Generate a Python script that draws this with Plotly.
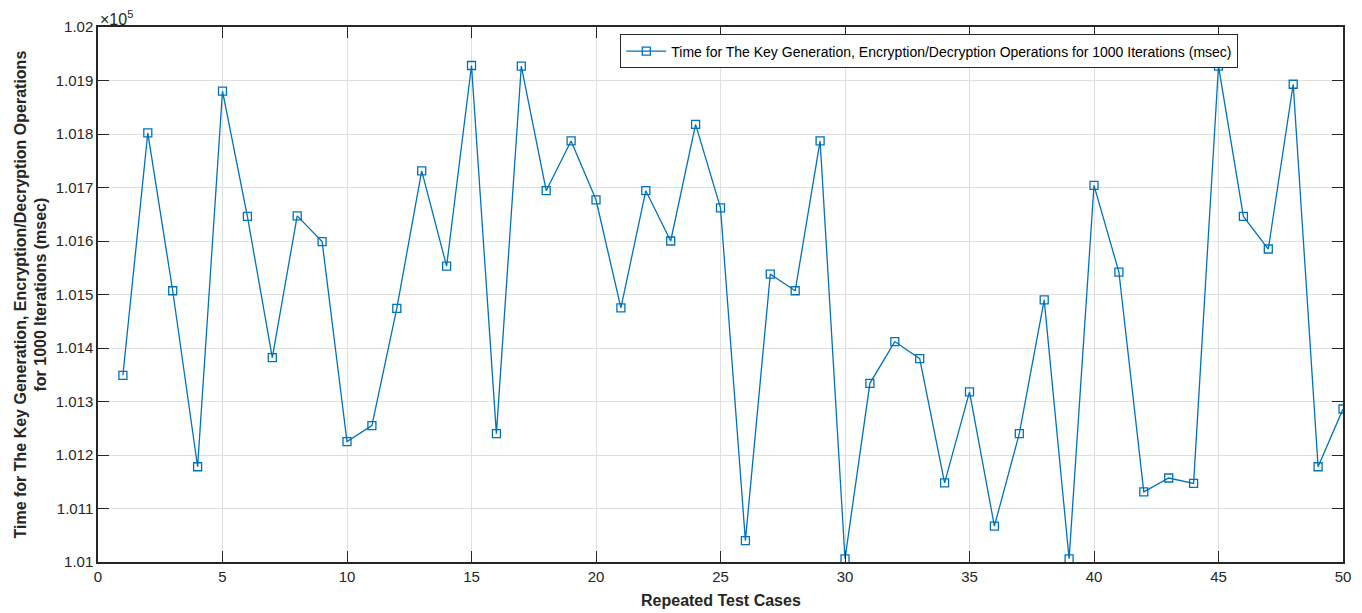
import plotly.graph_objects as go

test_cases = list(range(1, 51))
times_msec = [
    101349, 101802, 101507, 101178, 101880, 101646, 101382, 101647, 101599, 101225,
    101255, 101474, 101731, 101553, 101928, 101240, 101927, 101694, 101787, 101677,
    101475, 101694, 101600, 101818, 101662, 101040, 101538, 101507, 101787, 101006,
    101334, 101412, 101380, 101148, 101318, 101067, 101240, 101490, 101006, 101704,
    101542, 101131, 101157, 101147, 101927, 101646, 101585, 101893, 101178, 101286,
]
y_tick_vals = [101000 + 100 * i for i in range(11)]
y_tick_text = ["1.01", "1.011", "1.012", "1.013", "1.014", "1.015",
               "1.016", "1.017", "1.018", "1.019", "1.02"]
x_tick_vals = [0, 5, 10, 15, 20, 25, 30, 35, 40, 45, 50]

series_name = "Time for The Key Generation, Encryption/Decryption Operations for 1000 Iterations (msec)"
y_title = "<b>Time for The Key Generation, Encryption/Decryption Operations<br>for 1000 Iterations (msec)</b>"
x_title = "<b>Repeated Test Cases</b>"
axis_col = "#262626"
font_family = "Liberation Sans, Arial, sans-serif"

fig = go.Figure()
fig.add_trace(go.Scatter(
    x=test_cases, y=times_msec, mode="lines+markers", name=series_name,
    line=dict(color="#0072BD", width=1.3),
    marker=dict(symbol="square-open", size=8, color="#0072BD", line=dict(width=1.3, color="#0072BD")),
))

common = dict(ticks="inside", ticklen=11, tickcolor=axis_col, tickwidth=1.3,
              showline=True, linecolor=axis_col, linewidth=1.5, mirror="ticks",
              showgrid=True, gridcolor="#dfdfdf", gridwidth=1, zeroline=False,
              tickfont=dict(size=15, color=axis_col), automargin=False)

# page body adds an 8px offset, so the figure is sized to fit the window
fig.update_layout(
    width=1354, height=605,
    margin=dict(l=90, r=19, t=19, b=51),
    paper_bgcolor="white", plot_bgcolor="white",
    font=dict(family=font_family, color=axis_col),
    showlegend=True,
    legend=dict(x=0.4195, y=0.986, xanchor="left", yanchor="top",
                bordercolor=axis_col, borderwidth=1, bgcolor="white",
                font=dict(size=14, color="black"), itemwidth=40),
    xaxis=dict(range=[0, 50], tickvals=x_tick_vals, **common),
    yaxis=dict(range=[101000, 102000], tickvals=y_tick_vals, ticktext=y_tick_text, **common),
    annotations=[
        dict(xref="paper", yref="paper", x=0, y=1, xanchor="left", yanchor="bottom",
             text="×10<sup>5</sup>", showarrow=False, font=dict(size=16, color=axis_col),
             yshift=-3),
        dict(xref="paper", yref="paper", x=0, y=0.5, xshift=-68, xanchor="center", yanchor="middle",
             text=y_title, textangle=-90, showarrow=False, font=dict(size=16, color=axis_col)),
        dict(xref="paper", yref="paper", x=0.5, y=0, yshift=-38, xanchor="center", yanchor="middle",
             text=x_title, showarrow=False, font=dict(size=16, color=axis_col)),
    ],
)

fig.write_html("out.html")
